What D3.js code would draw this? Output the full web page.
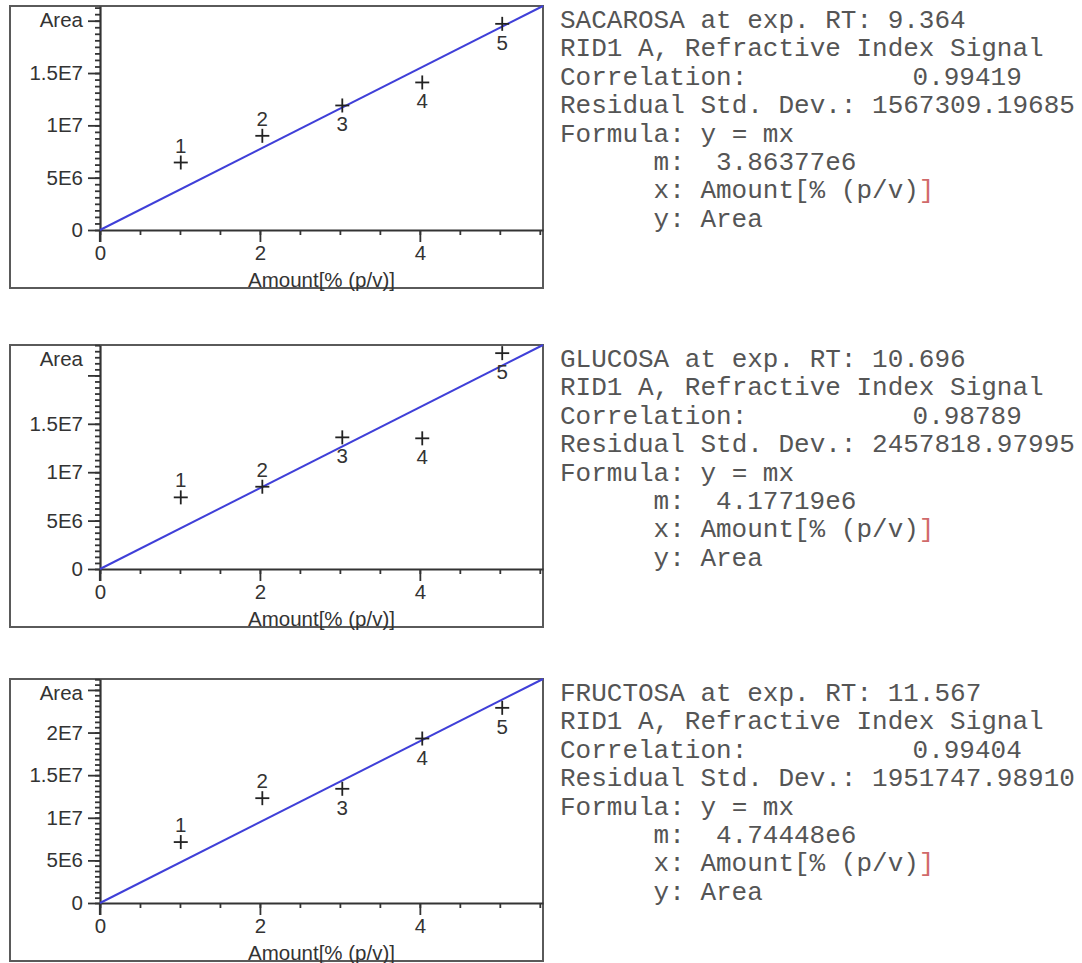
<!DOCTYPE html>
<html>
<head>
<meta charset="utf-8">
<script src="https://cdn.jsdelivr.net/npm/d3@7"></script>
<style>
  html, body { margin: 0; padding: 0; background: #fff; }
  svg { display: block; }
</style>
</head>
<body>
<svg id="chart" width="1082" height="963"></svg>
<script>
// ---------------- data ----------------
const compounds    = ["SACAROSA", "GLUCOSA", "FRUCTOSA"];
const retentions   = ["9.364", "10.696", "11.567"];
const correlations = ["0.99419", "0.98789", "0.99404"];
const residuals    = ["1567309.19685", "2457818.97995", "1951747.98910"];
const slopes       = [3.86377e6, 4.17719e6, 4.74448e6];
const slopeLabels  = ["3.86377e6", "4.17719e6", "4.74448e6"];
const signalName   = "RID1 A, Refractive Index Signal";
const xTitle       = "Amount[% (p/v)]";
const yTitle       = "Area";

const levelLabels  = ["1", "2", "3", "4", "5"];
const levelSide    = ["above", "above", "below", "below", "below"];
const amounts = [
  [1.01, 2.03, 3.03, 4.03, 5.03],
  [1.01, 2.03, 3.03, 4.03, 5.03],
  [1.01, 2.03, 3.03, 4.03, 5.03]
];
const areas = [
  [6.45e6, 9.0e6, 11.9e6, 14.1e6, 19.7e6],
  [7.4e6, 8.5e6, 13.6e6, 13.5e6, 22.3e6],
  [7.15e6, 12.3e6, 13.4e6, 19.3e6, 22.9e6]
];

const xMax          = 5.54;
const xMajorTicks   = [0, 2, 4];
const xMajorLabels  = ["0", "2", "4"];
const xMinorStep    = 0.5;
const yMajorTicks   = [0, 5e6, 1e7, 1.5e7, 2e7, 2.5e7];
const yMajorLabels  = ["0", "5E6", "1E7", "1.5E7", "2E7", "2.5E7"];
const yMinorStep    = 625000;

// ---------------- layout ----------------
const offsets = [0, 339, 673];
const plotL = 100, plotR = 543, plotT = 6, plotB = 230;
const boxL = 10, boxR = 543, boxT = 6, boxB = 288;
const sansFont = "'Liberation Sans', Arial, Helvetica, sans-serif";
const monoFont = "'Liberation Mono', 'Courier New', monospace";

const svg = d3.select("#chart");

compounds.forEach((name, i) => {
  const g = svg.append("g").attr("transform", `translate(0,${offsets[i]})`);
  const yMax = slopes[i] * xMax;
  const x = d3.scaleLinear().domain([0, xMax]).range([plotL, plotR]);
  const y = d3.scaleLinear().domain([0, yMax]).range([plotB, plotT]);

  // frame
  g.append("rect")
    .attr("x", boxL).attr("y", boxT)
    .attr("width", boxR - boxL).attr("height", boxB - boxT)
    .attr("fill", "none").attr("stroke", "#5a5a5a").attr("stroke-width", 2);

  // x minor ticks
  const xMinor = d3.range(0, xMax + 1e-9, xMinorStep);
  g.append("g")
    .attr("transform", `translate(0,${plotB})`)
    .call(d3.axisBottom(x).tickValues(xMinor).tickSize(5).tickSizeOuter(0).tickFormat(""))
    .call(a => a.select(".domain").remove())
    .call(a => a.selectAll("line").attr("stroke", "#333").attr("stroke-width", 1.8));

  // x major
  g.append("g")
    .attr("transform", `translate(0,${plotB})`)
    .call(d3.axisBottom(x).tickValues(xMajorTicks).tickSize(12).tickSizeOuter(0)
      .tickPadding(3).tickFormat((d, k) => xMajorLabels[k]))
    .call(a => a.select(".domain").attr("stroke", "#333").attr("stroke-width", 2.2))
    .call(a => a.selectAll("line").attr("stroke", "#333").attr("stroke-width", 1.8))
    .call(a => a.selectAll("text").attr("font-family", sansFont).attr("font-size", 20.5).attr("fill", "#333"));

  // y minor ticks
  const yMinor = d3.range(0, yMax + 1e-3, yMinorStep);
  g.append("g")
    .attr("transform", `translate(${plotL},0)`)
    .call(d3.axisLeft(y).tickValues(yMinor).tickSize(5).tickSizeOuter(0).tickFormat(""))
    .call(a => a.select(".domain").remove())
    .call(a => a.selectAll("line").attr("stroke", "#333").attr("stroke-width", 1.8));

  // y major
  const yTicksIn = yMajorTicks.filter(v => v <= yMax);
  g.append("g")
    .attr("transform", `translate(${plotL},0)`)
    .call(d3.axisLeft(y).tickValues(yTicksIn).tickSize(12).tickSizeOuter(0).tickPadding(5)
      .tickFormat(v => (y(v) - plotT < 40) ? "" : yMajorLabels[yMajorTicks.indexOf(v)]))
    .call(a => a.select(".domain").attr("stroke", "#333").attr("stroke-width", 2.2))
    .call(a => a.selectAll("line").attr("stroke", "#333").attr("stroke-width", 1.8))
    .call(a => a.selectAll("text").attr("font-family", sansFont).attr("font-size", 20.5).attr("fill", "#333"));

  // extend y axis line slightly below x axis (origin tick)
  g.append("line")
    .attr("x1", x(0)).attr("x2", x(0)).attr("y1", y(0)).attr("y2", y(0) + 12)
    .attr("stroke", "#333").attr("stroke-width", 2.2);

  // y title
  g.append("text")
    .attr("x", plotL - 17).attr("y", plotT + 21)
    .attr("text-anchor", "end")
    .attr("font-family", sansFont).attr("font-size", 20.5).attr("fill", "#333")
    .text(yTitle);

  // x title
  g.append("text")
    .attr("x", (plotL + plotR) / 2).attr("y", boxB - 1)
    .attr("text-anchor", "middle")
    .attr("font-family", sansFont).attr("font-size", 20.5).attr("fill", "#333")
    .text(xTitle);

  // regression line y = m x
  g.append("line")
    .attr("x1", x(0)).attr("y1", y(0))
    .attr("x2", x(xMax)).attr("y2", y(slopes[i] * xMax))
    .attr("stroke", "#3f3fd8").attr("stroke-width", 2);

  // points
  const pts = amounts[i].map((a, k) => ({ a, v: areas[i][k], lab: levelLabels[k], side: levelSide[k] }));
  const pg = g.append("g");
  pts.forEach(p => {
    const cx = x(p.a), cy = y(p.v);
    pg.append("line").attr("x1", cx - 7).attr("x2", cx + 7).attr("y1", cy).attr("y2", cy)
      .attr("stroke", "#222").attr("stroke-width", 1.8);
    pg.append("line").attr("x1", cx).attr("x2", cx).attr("y1", cy - 7).attr("y2", cy + 7)
      .attr("stroke", "#222").attr("stroke-width", 1.8);
    pg.append("text")
      .attr("x", cx).attr("y", p.side === "above" ? cy - 10 : cy + 26)
      .attr("text-anchor", "middle")
      .attr("font-family", sansFont).attr("font-size", 20.5).attr("fill", "#333")
      .text(p.lab);
  });

  // info text block
  const tx = 560, ty0 = 28, lh = 28.4, cw = 15.6;
  const info = g.append("g").attr("font-family", monoFont).attr("font-size", 26).attr("fill", "#555");
  const line = (k, xPos, str) => info.append("text").attr("x", xPos).attr("y", ty0 + k * lh).attr("xml:space", "preserve").text(str);
  line(0, tx, `${name} at exp. RT: ${retentions[i]}`);
  line(1, tx, signalName);
  line(2, tx, "Correlation:");
  line(2, tx + 22.6 * cw, correlations[i]);
  line(3, tx, `Residual Std. Dev.: ${residuals[i]}`);
  line(4, tx, "Formula: y = mx");
  line(5, tx + 6 * cw, "m:");
  line(5, tx + 10 * cw, slopeLabels[i]);
  const xl = line(6, tx + 6 * cw, "x: Amount[% (p/v)");
  xl.append("tspan").attr("fill", "#d06a6a").text("]");
  line(7, tx + 6 * cw, "y: Area");
});
</script>
</body>
</html>
